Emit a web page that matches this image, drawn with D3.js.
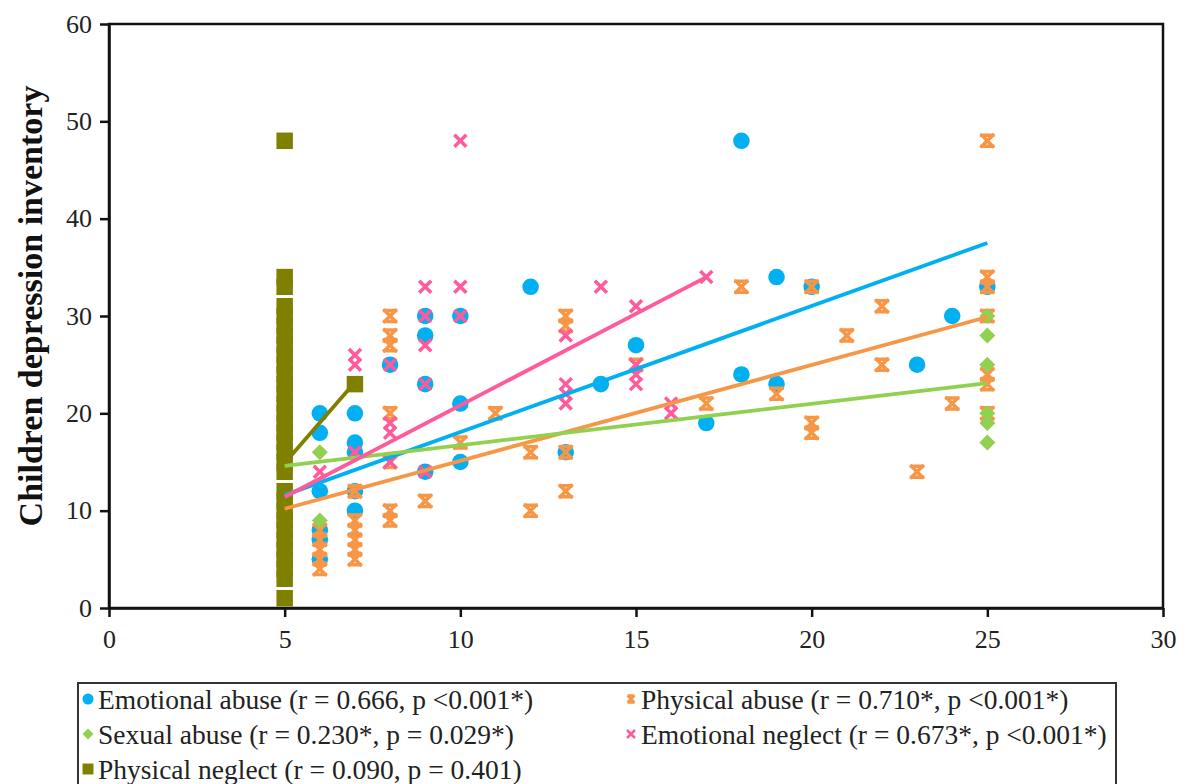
<!DOCTYPE html>
<html>
<head>
<meta charset="utf-8">
<script src="https://cdn.jsdelivr.net/npm/d3@7"></script>
<style>
  body { margin: 0; background: #fff; }
  svg text { font-family: "Liberation Serif", "Times New Roman", Times, serif; }
</style>
</head>
<body>
<svg width="1186" height="784"></svg>
<script>
// points, [x, y]
const emotionalAbuse = [
  [6, 20], [6, 18], [6, 12], [6, 8], [6, 7], [6, 5],
  [7, 20], [7, 17], [7, 16], [7, 12], [7, 10],
  [8, 25], [9, 30], [9, 28], [9, 23], [9, 14],
  [10, 30], [10, 21], [10, 15], [12, 33], [13, 16], [14, 23], [15, 27],
  [17, 19], [18, 48], [18, 24], [19, 34], [19, 23], [20, 33],
  [23, 25], [24, 30], [25, 33]
];
const physicalAbuse = [
  [6, 8], [6, 7], [6, 6], [6, 5], [6, 4],
  [7, 12], [7, 9], [7, 8], [7, 7], [7, 6], [7, 5],
  [8, 30], [8, 28], [8, 27], [8, 20], [8, 15], [8, 10], [8, 9],
  [9, 11], [10, 17], [11, 20], [12, 16], [12, 10],
  [13, 30], [13, 29], [13, 16], [13, 12], [15, 25], [17, 21], [18, 33],
  [19, 22], [20, 33], [20, 19], [20, 18], [21, 28], [22, 31], [22, 25],
  [23, 14], [24, 21],
  [25, 48], [25, 34], [25, 33], [25, 30], [25, 24], [25, 23], [25, 20]
];
const sexualAbuse = [
  [6, 16], [6, 9],
  [25, 30], [25, 28], [25, 25], [25, 20], [25, 19], [25, 17]
];
const emotionalNeglect = [
  [6, 14], [7, 26], [7, 25], [7, 16],
  [8, 25], [8, 19], [8, 18], [8, 15],
  [9, 33], [9, 30], [9, 27], [9, 23], [9, 14],
  [10, 48], [10, 33], [10, 30],
  [13, 28], [13, 23], [13, 22], [13, 21], [14, 33],
  [15, 31], [15, 25], [15, 24], [15, 23], [16, 21], [16, 20], [17, 34]
];
const physicalNeglect = [
  [5, 1], [5, 3], [5, 4], [5, 5], [5, 6], [5, 7], [5, 8], [5, 9], [5, 10], [5, 11], [5, 12],
  [5, 14], [5, 15], [5, 16], [5, 17], [5, 18], [5, 19], [5, 20], [5, 21], [5, 22],
  [5, 23], [5, 24], [5, 25], [5, 26], [5, 27], [5, 28], [5, 29], [5, 30], [5, 31],
  [5, 33], [5, 34], [5, 48], [7, 23]
];

// trend line end points as drawn
const trendEmotionalAbuse = [[5, 11.6], [25, 37.5]];
const trendPhysicalAbuse = [[5, 10.2], [25, 29.9]];
const trendSexualAbuse = [[5, 14.6], [25, 23.1]];
const trendEmotionalNeglect = [[5, 11.4], [17, 34.0]];
const trendPhysicalNeglect = [[5, 14.9], [7, 23.2]];

const xTicks = [0, 5, 10, 15, 20, 25, 30];
const yTicks = [0, 10, 20, 30, 40, 50, 60];
const yAxisLabelText = "Children depression inventory";

const legendLabels = [
  "Emotional abuse (r = 0.666, p <0.001*)",
  "Physical abuse (r = 0.710*, p <0.001*)",
  "Sexual abuse (r = 0.230*, p = 0.029*)",
  "Emotional neglect (r = 0.673*, p <0.001*)",
  "Physical neglect (r = 0.090, p = 0.401)"
];

const colors = {
  blue: '#00b0f0',
  orange: '#f79646',
  green: '#92d050',
  pink: '#ff5b9c',
  olive: '#808000'
};

const svg = d3.select('svg');

const xScale = d3.scaleLinear().domain([0, 30]).range([109, 1163]);
const yScale = d3.scaleLinear().domain([0, 60]).range([608, 24]);

// frame
svg.append('rect')
  .attr('x', xScale(0))
  .attr('y', yScale(60))
  .attr('width', xScale(30) - xScale(0))
  .attr('height', yScale(0) - yScale(60))
  .attr('fill', 'none')
  .attr('stroke', '#111')
  .attr('stroke-width', 2.5);

const xAxis = svg.append('g')
  .attr('transform', `translate(0,${yScale(0)})`)
  .call(d3.axisBottom(xScale).tickValues(xTicks).tickSize(9).tickSizeOuter(0).tickPadding(10));
const yAxis = svg.append('g')
  .attr('transform', `translate(${xScale(0)},0)`)
  .call(d3.axisLeft(yScale).tickValues(yTicks).tickSize(9).tickSizeOuter(0).tickPadding(8));

[xAxis, yAxis].forEach(a => {
  a.attr('font-family', null);
  a.select('.domain').attr('stroke', '#111').attr('stroke-width', 2.5);
  a.selectAll('.tick line').attr('stroke', '#111').attr('stroke-width', 2.5);
  a.selectAll('.tick text')
    .style('font-size', '26px')
    .attr('fill', '#222');
});
xAxis.selectAll('.tick text').attr('dy', '0.8em');

svg.append('text')
  .attr('transform', `translate(42,306) rotate(-90)`)
  .style('text-anchor', 'middle')
  .style('font-size', '34px')
  .style('font-weight', 'bold')
  .attr('fill', '#111')
  .text(yAxisLabelText);

// marker shapes
const hourglass = s => `M${-s},${-s}L${s},${s}M${s},${-s}L${-s},${s}M${-s},${-s}H${s}M${-s},${s}H${s}`;
const cross = s => `M${-s},${-s}L${s},${s}M${s},${-s}L${-s},${s}`;
const diamond = s => `M0,${-s}L${s},0L0,${s}L${-s},0Z`;

const drawPoints = (data, shape, color) => {
  const g = svg.append('g');
  const sel = g.selectAll('path').data(data).enter().append('path')
    .attr('transform', d => `translate(${xScale(d[0])},${yScale(d[1])})`);
  if (shape === 'circle') {
    sel.attr('d', d3.symbol(d3.symbolCircle, 215)()).attr('fill', color);
  } else if (shape === 'diamond') {
    sel.attr('d', diamond(8)).attr('fill', color);
  } else if (shape === 'square') {
    sel.attr('d', d3.symbol(d3.symbolSquare, 272)()).attr('fill', color);
  } else if (shape === 'hourglass') {
    sel.attr('d', hourglass(5.5)).attr('fill', 'none')
      .attr('stroke', color).attr('stroke-width', 3.5).attr('stroke-linecap', 'square');
  } else {
    sel.attr('d', cross(6)).attr('fill', 'none')
      .attr('stroke', color).attr('stroke-width', 3.5);
  }
};

drawPoints(emotionalAbuse, 'circle', colors.blue);
drawPoints(physicalAbuse, 'hourglass', colors.orange);
drawPoints(sexualAbuse, 'diamond', colors.green);
drawPoints(emotionalNeglect, 'cross', colors.pink);
drawPoints(physicalNeglect, 'square', colors.olive);

const line = d3.line().x(d => xScale(d[0])).y(d => yScale(d[1]));
[
  [trendEmotionalAbuse, colors.blue],
  [trendPhysicalAbuse, colors.orange],
  [trendSexualAbuse, colors.green],
  [trendEmotionalNeglect, colors.pink],
  [trendPhysicalNeglect, colors.olive]
].forEach(([pts, c]) => {
  svg.append('path')
    .attr('d', line(pts))
    .attr('fill', 'none')
    .attr('stroke', c)
    .attr('stroke-width', 3.8);
});

// legend
const legend = svg.append('g');
legend.append('rect')
  .attr('x', 78).attr('y', 683)
  .attr('width', 1038).attr('height', 120)
  .attr('fill', '#fff')
  .attr('stroke', '#333')
  .attr('stroke-width', 2);

const legendItems = [
  { label: legendLabels[0], shape: 'circle', color: colors.blue, x: 88, y: 699 },
  { label: legendLabels[1], shape: 'hourglass', color: colors.orange, x: 631, y: 699 },
  { label: legendLabels[2], shape: 'diamond', color: colors.green, x: 88, y: 734 },
  { label: legendLabels[3], shape: 'cross', color: colors.pink, x: 631, y: 734 },
  { label: legendLabels[4], shape: 'square', color: colors.olive, x: 88, y: 769 }
];

legendItems.forEach(d => {
  const m = legend.append('path').attr('transform', `translate(${d.x},${d.y})`);
  if (d.shape === 'circle') m.attr('d', d3.symbol(d3.symbolCircle, 95)()).attr('fill', d.color);
  else if (d.shape === 'diamond') m.attr('d', diamond(5.5)).attr('fill', d.color);
  else if (d.shape === 'square') m.attr('d', d3.symbol(d3.symbolSquare, 120)()).attr('fill', d.color);
  else if (d.shape === 'hourglass') m.attr('d', hourglass(3.5)).attr('fill', 'none').attr('stroke', d.color).attr('stroke-width', 2.5);
  else m.attr('d', cross(4)).attr('fill', 'none').attr('stroke', d.color).attr('stroke-width', 2.5);

  legend.append('text')
    .attr('x', d.x + 10)
    .attr('y', d.y)
    .attr('dy', '0.35em')
    .style('font-size', '27.5px')
    .attr('fill', '#222')
    .text(d.label);
});
</script>
</body>
</html>
